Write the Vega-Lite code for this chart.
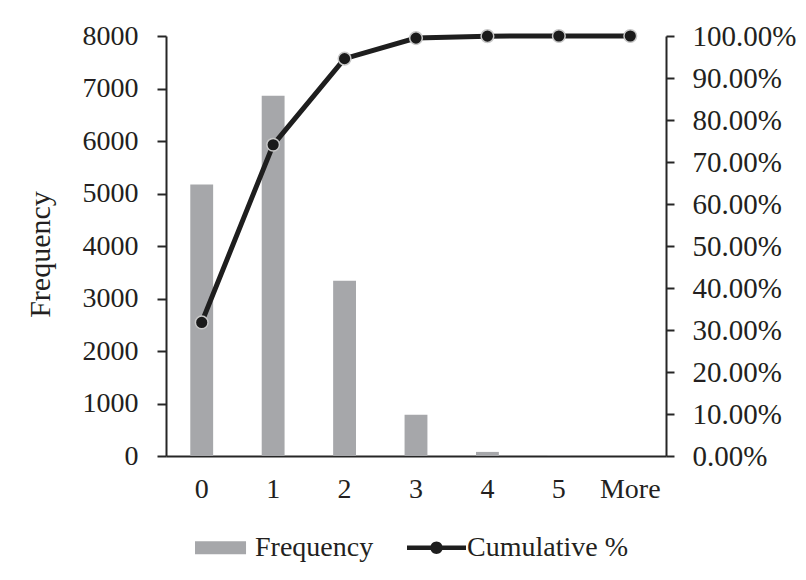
{
  "$schema": "https://vega.github.io/schema/vega-lite/v6.json",
  "width": 500,
  "height": 420,
  "autosize": {"type": "none"},
  "padding": {"left": 166, "top": 36, "right": 140, "bottom": 124},
  "background": "white",
  "config": {
    "font": "Liberation Serif",
    "view": {"stroke": null},
    "axis": {
      "labelFont": "Liberation Serif",
      "labelFontSize": 28,
      "labelColor": "#231F20",
      "titleFont": "Liberation Serif",
      "titleFontSize": 30,
      "titleFontWeight": "normal",
      "titleColor": "#231F20",
      "grid": false,
      "domainColor": "#262626",
      "domainWidth": 2,
      "tickColor": "#262626",
      "tickWidth": 2
    },
    "legend": {
      "labelFont": "Liberation Serif",
      "labelFontSize": 28,
      "labelColor": "#231F20",
      "labelLimit": 400,
      "padding": 0
    }
  },
  "data": {
    "values": [
      {"bin": "0", "freq": 5170, "cum": 0.318},
      {"bin": "1", "freq": 6860, "cum": 0.741},
      {"bin": "2", "freq": 3340, "cum": 0.946},
      {"bin": "3", "freq": 785, "cum": 0.995},
      {"bin": "4", "freq": 78, "cum": 0.9997},
      {"bin": "5", "freq": 5, "cum": 1.0},
      {"bin": "More", "freq": 0, "cum": 1.0}
    ]
  },
  "encoding": {
    "x": {
      "field": "bin",
      "type": "ordinal",
      "sort": null,
      "scale": {"paddingInner": 0.68, "paddingOuter": 0.34},
      "axis": {"title": null, "labelAngle": 0, "ticks": false, "tickSize": 0, "labelPadding": 19}
    }
  },
  "layer": [
    {
      "mark": {"type": "bar"},
      "encoding": {
        "y": {
          "field": "freq",
          "type": "quantitative",
          "scale": {"domain": [0, 8000]},
          "axis": {
            "title": "Frequency",
            "values": [0, 1000, 2000, 3000, 4000, 5000, 6000, 7000, 8000],
            "format": "d",
            "tickSize": 9,
            "labelPadding": 19,
            "titlePadding": 27,
            "titleY": 218
          }
        },
        "color": {
          "datum": "Frequency",
          "type": "nominal",
          "scale": {"domain": ["Frequency", "Cumulative %"], "range": ["#A6A7AA", "#1E1E1E"]},
          "legend": {
            "title": null,
            "orient": "none",
            "legendX": 29,
            "legendY": 482,
            "direction": "horizontal",
            "symbolSize": 3481,
            "labelOffset": 1,
            "columnPadding": 33,
            "encode": {
              "symbols": {
                "update": {
                  "shape": {"signal": "datum.value === 'Frequency' ? 'M-1,-0.22H0.73V0.22H-1Z' : 'M-1,-0.08H1V0.08H-1Z M0.21,0A0.21,0.21 0 1,1 -0.21,0A0.21,0.21 0 1,1 0.21,0Z'"},
                  "fill": {"signal": "datum.value === 'Frequency' ? '#A6A7AA' : '#1E1E1E'"},
                  "stroke": {"value": "transparent"},
                  "strokeWidth": {"value": 0},
                  "opacity": {"value": 1},
                  "size": {"value": 3481}
                }
              }
            }
          }
        }
      }
    },
    {
      "mark": {"type": "line", "strokeWidth": 5},
      "encoding": {
        "y": {
          "field": "cum",
          "type": "quantitative",
          "scale": {"domain": [0, 1]},
          "axis": {
            "orient": "right",
            "title": null,
            "format": ".2%",
            "values": [0, 0.1, 0.2, 0.3, 0.4, 0.5, 0.6, 0.7, 0.8, 0.9, 1.0],
            "tickSize": 8,
            "labelPadding": 18,
            "labelFontSize": 29
          }
        },
        "color": {"datum": "Cumulative %", "type": "nominal"}
      }
    },
    {
      "mark": {"type": "point", "filled": true, "fill": "#1A1A1A", "stroke": "#C8C8C8", "strokeWidth": 1.5, "size": 160, "opacity": 1},
      "encoding": {
        "y": {"field": "cum", "type": "quantitative", "scale": {"domain": [0, 1]}, "axis": null}
      }
    }
  ],
  "resolve": {"scale": {"y": "independent"}}
}
